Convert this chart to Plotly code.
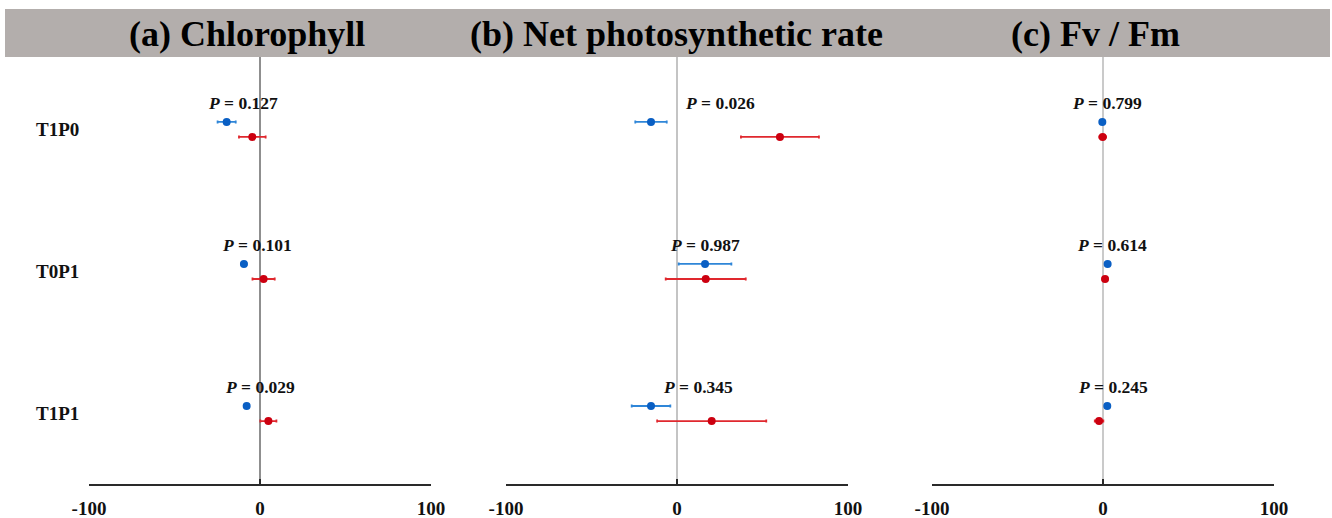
import plotly.graph_objects as go

rows = ["T1P0", "T0P1", "T1P1"]
row_pos = [3, 2, 1]
panels = ["(a) Chlorophyll", "(b) Net photosynthetic rate", "(c) Fv / Fm"]

a_blue = [-19.5, -9.4, -7.8]
a_blue_err = [5.3, 1.5, 0.8]
a_red = [-4.5, 2.1, 4.9]
a_red_err = [7.8, 6.5, 4.7]
a_p = ["0.127", "0.101", "0.029"]

b_blue = [-15.2, 16.4, -15.2]
b_blue_err = [9.2, 15.4, 11.3]
b_red = [60.2, 16.8, 20.3]
b_red_err = [22.8, 23.4, 31.9]
b_p = ["0.026", "0.987", "0.345"]

c_blue = [-0.4, 2.7, 2.5]
c_blue_err = [0.5, 0.5, 0.5]
c_red = [-0.2, 1.2, -2.3]
c_red_err = [2.0, 1.5, 2.5]
c_p = ["0.799", "0.614", "0.245"]

tick_vals = [-100, 0, 100]
tick_text = ["-100", "0", "100"]

p_label_x = [[-10, -1.5, 0], [25, 16.4, 12.3], [2.2, 5, 5.8]]

data = [
    (a_blue, a_blue_err, a_red, a_red_err, a_p),
    (b_blue, b_blue_err, b_red, b_red_err, b_p),
    (c_blue, c_blue_err, c_red, c_red_err, c_p),
]

W, H = 1332, 518
FONT = "Liberation Serif"
BLUE_DOT, BLUE_LINE = "#0a5fc4", "#2f86d8"
RED_DOT, RED_LINE = "#cc0010", "#e0282e"

x_domains = [(89 / W, 431 / W), (506 / W, 848 / W), (932 / W, 1274 / W)]
y_dom = ((H - 484) / H, (H - 57) / H)
off = 0.053
zero_colors = ["#6a6a6a", "#b0b0b0", "#b8b8b8"]

fig = go.Figure()
layout = dict(
    width=W, height=H, autosize=False,
    margin=dict(l=0, r=0, t=0, b=0, pad=0, autoexpand=False),
    paper_bgcolor="white", plot_bgcolor="white", showlegend=False,
    shapes=[], annotations=[],
)

for i, (bv, be, rv, re_, pv) in enumerate(data):
    xa = "x" if i == 0 else f"x{i+1}"
    ya = "y" if i == 0 else f"y{i+1}"
    xkey = "xaxis" if i == 0 else f"xaxis{i+1}"
    ykey = "yaxis" if i == 0 else f"yaxis{i+1}"
    fig.add_trace(go.Scatter(
        x=bv, y=[r + off for r in row_pos], mode="markers", xaxis=xa, yaxis=ya,
        marker=dict(color=BLUE_DOT, size=8),
        error_x=dict(type="data", array=be, color=BLUE_LINE, thickness=1.8, width=1.5),
    ))
    fig.add_trace(go.Scatter(
        x=rv, y=[r - off for r in row_pos], mode="markers", xaxis=xa, yaxis=ya,
        marker=dict(color=RED_DOT, size=8),
        error_x=dict(type="data", array=re_, color=RED_LINE, thickness=1.8, width=1.5),
    ))
    layout[xkey] = dict(
        domain=list(x_domains[i]), range=[-100, 100], anchor=ya,
        tickvals=tick_vals, ticktext=[f"<b>{t}</b>" for t in tick_text],
        showline=True, linecolor="#2a2a2a", linewidth=1.6,
        ticks="inside", ticklen=5, tickwidth=1.6, tickcolor="#2a2a2a",
        showgrid=False, zeroline=False, automargin=False,
        ticklabelstandoff=6,
        tickfont=dict(family=FONT, size=19, color="#111"),
    )
    layout[ykey] = dict(
        domain=list(y_dom), range=[0.504, 3.51], anchor=xa,
        showticklabels=False, showgrid=False, zeroline=False, showline=False,
        ticks="", automargin=False,
    )
    layout["shapes"].append(dict(
        type="line", xref=xa, yref=ya, x0=0, x1=0, y0=0.504, y1=3.51,
        line=dict(color=zero_colors[i], width=1.5), layer="below",
    ))
    for k, r in enumerate(row_pos):
        layout["annotations"].append(dict(
            xref=xa, yref=ya, x=p_label_x[i][k], y=r + 0.185,
            text=f"<b><i>P</i> = {pv[k]}</b>", showarrow=False,
            font=dict(family=FONT, size=17.5, color="#111"),
            xanchor="center", yanchor="middle",
        ))
    title_x = [247 / W, 676 / W, 1095 / W][i]
    layout["annotations"].append(dict(
        xref="paper", yref="paper", x=title_x, y=(H - 34) / H,
        text=f"<b>{panels[i]}</b>", showarrow=False,
        font=dict(family=FONT, size=36, color="#000"),
        xanchor="center", yanchor="middle",
    ))

# header band
layout["shapes"].insert(0, dict(
    type="rect", xref="paper", yref="paper", x0=5 / W, x1=1330 / W,
    y0=(H - 57) / H, y1=(H - 9) / H, fillcolor="#b3aeac", line=dict(width=0),
    layer="below",
))

# row labels
for k, r in enumerate(row_pos):
    layout["annotations"].append(dict(
        xref="paper", yref="y", x=81 / W, y=r, text=f"<b>{rows[k]}</b>",
        showarrow=False, xanchor="right", yanchor="middle",
        font=dict(family=FONT, size=19, color="#111"),
    ))

fig.update_layout(**layout)
fig.write_html("out.html")
